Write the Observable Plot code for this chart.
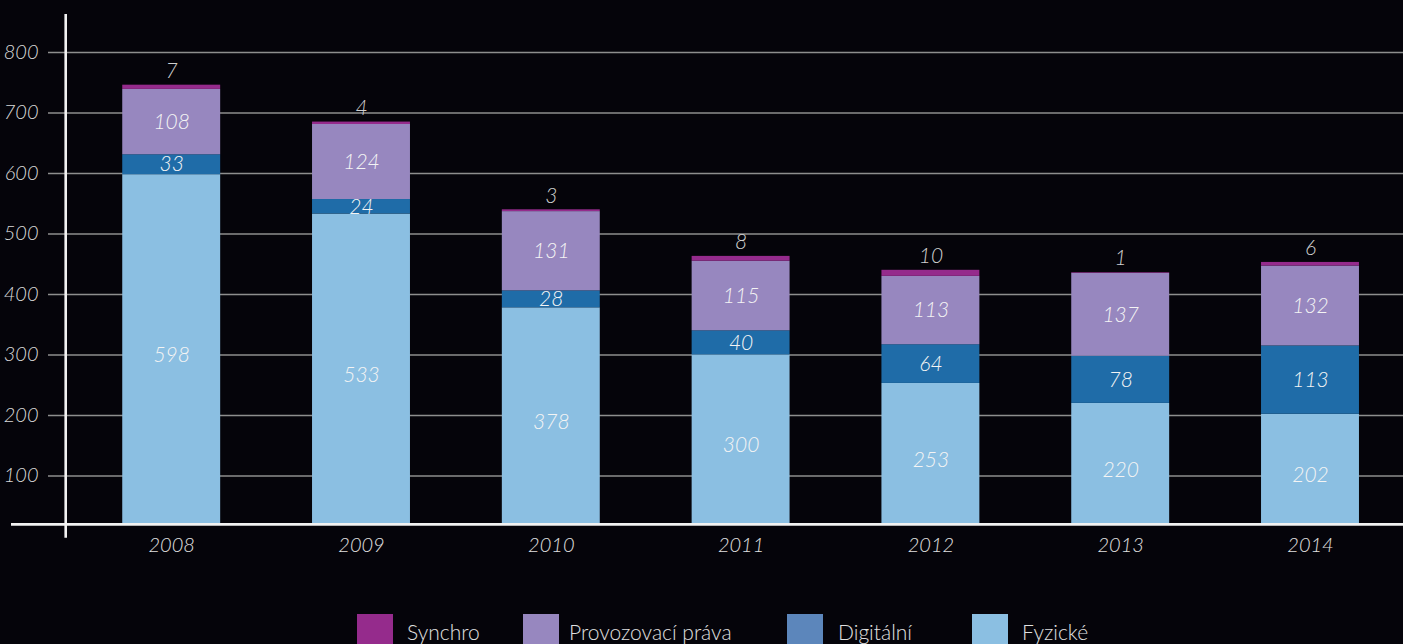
<!DOCTYPE html>
<html><head><meta charset="utf-8">
<script src="https://cdn.jsdelivr.net/npm/d3@7"></script>
<script src="https://cdn.jsdelivr.net/npm/@observablehq/plot@0.6"></script>
<style>
html,body{margin:0;padding:0;background:#05040a;width:1403px;height:644px;overflow:hidden;position:relative;}
#chart{position:absolute;left:0;top:0;}
.item{position:absolute;top:614px;height:40px;}
.sw{position:absolute;top:0;left:0;width:36px;height:36px;}
.lbl{position:absolute;top:7px;white-space:nowrap;font-family:Lato,"Open Sans",sans-serif;font-weight:300;font-size:21px;line-height:21px;color:#e0e0e0;}
</style></head><body><div id="chart"></div><div id="legend"></div>
<script>
const years = ["2008","2009","2010","2011","2012","2013","2014"];
const fyzicke = [598,533,378,300,253,220,202];
const digitalni = [33,24,28,40,64,78,113];
const provozovaci = [108,124,131,115,113,137,132];
const synchro = [7,4,3,8,10,1,6];
const seriesNames = ["Fyzické","Digitální","Provozovací práva","Synchro"];
const barColors = ["#8bbfe2","#1f6ca8","#9787bf","#952b8c"];
const legendNames = ["Synchro","Provozovací práva","Digitální","Fyzické"];
const legendColors = ["#952b8c","#9787bf","#5c86bb","#8bbfe2"];
const yTicks = [100,200,300,400,500,600,700,800];

const seriesValues = [fyzicke, digitalni, provozovaci, synchro];
const table = [];
years.forEach((y, i) => {
  seriesNames.forEach((s, j) => table.push({year: y, series: s, value: seriesValues[j][i]}));
});

const font = 'Lato, "Open Sans", sans-serif';
const chart = Plot.plot({
  width: 1403,
  height: 600,
  marginLeft: 48,
  marginRight: 0,
  marginTop: 0,
  marginBottom: 76,
  style: {background: "transparent", fontFamily: font, overflow: "visible"},
  x: {domain: years, range: [78.2, 1403], paddingInner: 0.484, paddingOuter: 0.232, round: false, axis: null},
  y: {domain: [0, 800], range: [536, 52], axis: null},
  color: {domain: seriesNames, range: barColors},
  marks: [
    Plot.ruleY(yTicks, {stroke: "#8e8e8e", strokeWidth: 1.6}),
    Plot.barY(table, Plot.stackY({x: "year", y: "value", z: "series", fill: "series", clip: "frame"})),
    Plot.text(table, Plot.stackY({x: "year", y: "value", z: "series",
      text: d => d.series === "Synchro" ? null : String(d.value),
      fill: "#f4f4f4", fontSize: 21, fontStyle: "italic", fontWeight: 300})),
    Plot.text(table, Plot.stackY2({x: "year", y: "value", z: "series",
      text: d => d.series === "Synchro" ? String(d.value) : null,
      fill: "#d0d0d0", fontSize: 21, fontStyle: "italic", fontWeight: 300, dy: -14})),
    Plot.ruleY([20], {stroke: "#f2f2f2", strokeWidth: 2.6, insetLeft: -37}),
    Plot.ruleX([years[0]], {y1: 863, y2: -3, dx: -106, stroke: "#f2f2f2", strokeWidth: 2.6}),
    Plot.axisY(yTicks, {anchor: "left", label: null, tickSize: 0, tickPadding: 10, fontSize: 20, fontStyle: "italic", fontWeight: 300, fill: "#d8d8d8"}),
    Plot.axisX({anchor: "bottom", label: null, tickSize: 0, tickPadding: 13, fontSize: 20, fontStyle: "italic", fontWeight: 300, fill: "#e0e0e0"})
  ]
});
document.getElementById("chart").appendChild(chart);

const legendX = [357, 523, 787, 972];
const legendTextDx = [50, 46, 51, 50];
const legend = document.getElementById("legend");
legendNames.forEach((n, i) => {
  const it = document.createElement("div");
  it.className = "item";
  it.style.left = legendX[i] + "px";
  it.innerHTML = `<div class="sw" style="background:${legendColors[i]}"></div><div class="lbl" style="left:${legendTextDx[i]}px">${n}</div>`;
  legend.appendChild(it);
});
</script></body></html>
